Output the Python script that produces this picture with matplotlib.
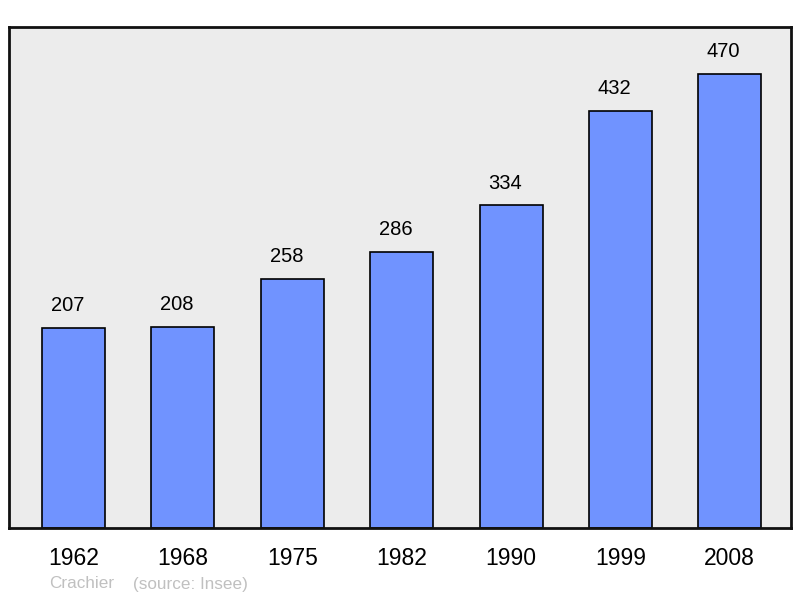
import matplotlib.pyplot as plt

years = ["1962", "1968", "1975", "1982", "1990", "1999", "2008"]
population = [207, 208, 258, 286, 334, 432, 470]

plt.rcParams['font.family'] = ['Liberation Sans', 'DejaVu Sans']

fig = plt.figure(figsize=(8.0, 5.98), dpi=100)
# axes box in pixels: left 9, right 791, top 27, bottom 528
ax = fig.add_axes([9 / 800, (598 - 528) / 598, 782 / 800, 501 / 598])
ax.set_facecolor('#ececec')

pos = list(range(len(years)))
ax.bar(pos, population, width=0.576, color='#7093ff', edgecolor='black', linewidth=1.2, zorder=2)

# value labels sit a little left of the bar centre in the original
for x, v in zip(pos, population):
    ax.text(x - 0.055, v + 23, str(v), ha='center', va='center', fontsize=14.5)

ax.set_xlim(-0.59, 6.56)
ax.set_ylim(0, 518.6)
ax.set_yticks([])
ax.set_xticks(pos)
ax.set_xticklabels(years, fontsize=16.5)
ax.tick_params(axis='x', length=0, pad=14)

for s in ax.spines.values():
    s.set_linewidth(2)
    s.set_color('#111111')

fig.text(49 / 800, 1 - 584 / 598, "Crachier", color='#c0c0c0', fontsize=12.3, va='center')
fig.text(133 / 800, 1 - 584 / 598, "(source: Insee)", color='#c0c0c0', fontsize=12.3, va='center')

fig.savefig('out.png', dpi=100, facecolor='white')
